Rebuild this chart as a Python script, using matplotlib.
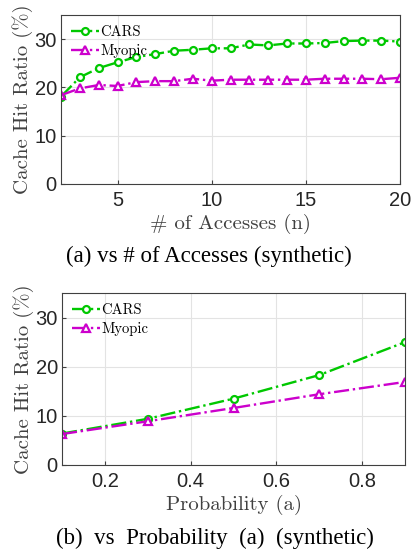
import numpy as np
import matplotlib.pyplot as plt

# panel (a): hit ratio vs number of accesses
accesses = list(range(2, 21))
cars_n = [18.1, 22.1, 24.0, 25.2, 26.3, 26.9, 27.6, 27.8, 28.1, 28.1,
          28.9, 28.7, 29.1, 29.1, 29.2, 29.6, 29.7, 29.7, 29.5]
myopic_n = [18.4, 19.8, 20.5, 20.3, 21.1, 21.3, 21.3, 21.8, 21.4, 21.6,
            21.6, 21.6, 21.6, 21.6, 21.8, 21.8, 21.8, 21.7, 22.0]

# panel (b): hit ratio vs probability
prob = [0.1, 0.3, 0.5, 0.7, 0.9]
cars_a = [6.4, 9.4, 13.5, 18.3, 25.0]
myopic_a = [6.3, 8.9, 11.6, 14.4, 16.9]

GREEN = "#00c800"
MAGENTA = "#cc00cc"
LABEL_FONT = "cmr10"
TICK_FONT = "Liberation Sans"
CAPTION_FONT = "Liberation Serif"

plt.rcParams["axes.formatter.use_mathtext"] = True

fig = plt.figure(figsize=(4.11, 5.52), dpi=100)
W, H = 411, 552


def add_panel(rect_px, x, cars, myopic, xlim, xticks, xticklabels, xlabel, caption, cap_xy):
   l, t, r, b = rect_px
   ax = fig.add_axes([l / W, 1 - b / H, (r - l) / W, (b - t) / H])
   ax.plot(x, cars, linestyle="-.", color=GREEN, marker="o", markersize=5,
           markerfacecolor="white", markeredgewidth=1.6, linewidth=1.7, label="CARS")
   ax.plot(x, myopic, linestyle="-.", color=MAGENTA, marker="^", markersize=6,
           markerfacecolor="white", markeredgewidth=1.6, linewidth=1.7, label="Myopic")
   ax.set_xlim(*xlim)
   ax.set_ylim(0, 35)
   ax.set_xticks(xticks)
   ax.set_xticklabels(xticklabels, fontfamily=TICK_FONT, fontsize=14.5, color="#262626")
   ax.set_yticks([0, 10, 20, 30])
   ax.set_yticklabels(["0", "10", "20", "30"], fontfamily=TICK_FONT, fontsize=14.5, color="#262626")
   ax.grid(True, color="#e3e3e3", linewidth=0.8)
   ax.set_axisbelow(True)
   ax.tick_params(direction="in", length=3, color="#404040", pad=3)
   ax.tick_params(axis="x", pad=5)
   for s in ax.spines.values():
      s.set_color("#404040")
      s.set_linewidth(0.8)
   ax.set_ylabel("Cache Hit Ratio (%)", fontfamily=LABEL_FONT, fontsize=15,
                 color="#404040", labelpad=1)
   ax.set_xlabel(xlabel, fontfamily=LABEL_FONT, fontsize=15, color="#404040", labelpad=3)
   ax.legend(loc="upper left", frameon=False, prop={"family": LABEL_FONT, "size": 10.5},
             handlelength=1.9, handletextpad=0.1, borderaxespad=0.3, labelspacing=0.35)
   fig.text(cap_xy[0] / W, 1 - cap_xy[1] / H, caption, ha="center", va="center",
            fontfamily=CAPTION_FONT, fontsize=16.5)
   return ax


add_panel((61, 15, 400, 184), accesses, cars_n, myopic_n, (2, 20),
          [5, 10, 15, 20], ["5", "10", "15", "20"],
          "# of Accesses (n)", "(a) vs # of Accesses (synthetic)", (209, 256))
add_panel((62, 293, 405, 465), prob, cars_a, myopic_a, (0.1, 0.9),
          [0.2, 0.4, 0.6, 0.8], ["0.2", "0.4", "0.6", "0.8"],
          "Probability (a)", "(b)  vs  Probability  (a)  (synthetic)", (215, 538))

fig.savefig("out.png", dpi=100)
